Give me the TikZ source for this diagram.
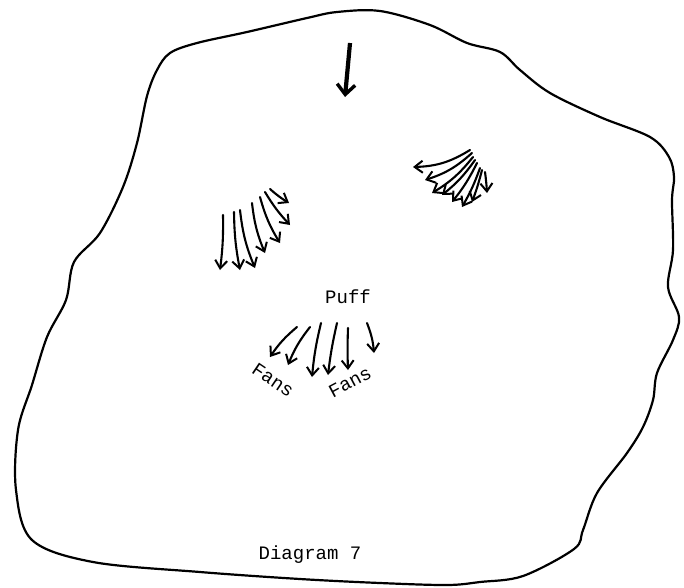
\documentclass[tikz,border=0pt]{standalone}
\usepackage{fontspec}
\setmonofont{Liberation Mono}
\usetikzlibrary{arrows.meta}
\tikzset{
  outline/.style={line width=2.2pt, line join=round},
  fanarrow/.style={line width=2.1pt, line cap=round, -{Straight Barb[length=8pt,width=12pt,line width=2pt]}},
  bigarrow/.style={line width=4.2pt, -{Straight Barb[length=10pt,width=18pt,line width=3.4pt]}},
  label/.style={font=\ttfamily\fontsize{19}{20}\selectfont, inner sep=0pt}
}
\begin{document}
\begin{tikzpicture}[x=1pt,y=-1pt]
\useasboundingbox (0,0) rectangle (684,587);
% outline
\draw[outline] plot[smooth cycle, tension=0.55] coordinates {
 (170,53) (197,43) (247,32) (307,18) (337,12) (380,11) (430,25) (467,43)
 (500,52) (520,70) (550,93) (600,117) (650,137) (669,157) (674,177) (672,200)
 (673,250) (668,287) (679,317) (673,340) (657,373) (653,400) (643,427) (627,453)
 (597,493) (583,530) (574,549) (523,576) (480,582) (447,585) (380,583) (300,579)
 (200,572) (93,562) (32,540) (16,490) (18,430) (32,385) (47,337) (66,300)
 (74,262) (100,233) (123,187) (137,143) (147,96) (157,70)};
% top arrow
\draw[bigarrow] (350,43) -- (345,97);
% left fan
\draw[fanarrow] (223,215) to[bend left=4] (220,270);
\draw[fanarrow] (234,212) to[bend right=5] (240,270);
\draw[fanarrow] (240,210) to[bend right=8] (255,268);
\draw[fanarrow] (252,203) to[bend right=8] (265,253);
\draw[fanarrow] (260,197) to[bend right=8] (280,243);
\draw[fanarrow] (265,192) to[bend right=6] (290,225);
\draw[fanarrow] (270,189) to[bend right=5] (289,203);
% right fan
\draw[fanarrow] (470,150) to[bend left=15] (413,167);
\draw[fanarrow] (472,153) to[bend left=12] (425,180);
\draw[fanarrow] (473,157) to[bend left=10] (432,193);
\draw[fanarrow] (475,160) to[bend left=8] (442,195);
\draw[fanarrow] (477,163) to[bend left=6] (452,202);
\draw[fanarrow] (480,168) to[bend left=5] (462,207);
\draw[fanarrow] (482,170) to[bend left=3] (472,202);
\draw[fanarrow] (485,172) to[bend left=2] (487,193);
% texts
\node[label] (puff) at (348,297) {Puff};
\node[label, rotate=-34] (fansL) at (273,380) {Fans};
\node[label, rotate=28] (fansR) at (350,382) {Fans};
\node[label] (diag) at (310,555) {Diagram 7};
% puff fan
\draw[fanarrow] (297,327) to[bend right=8] (270,357);
\draw[fanarrow] (310,327) to[bend right=8] (288,365);
\draw[fanarrow] (321,323) to[bend right=4] (312,377);
\draw[fanarrow] (337,323) to[bend right=3] (328,375);
\draw[fanarrow] (348,328) to[bend right=2] (348,370);
\draw[fanarrow] (367,323) to[bend left=8] (374,353);
\end{tikzpicture}
\end{document}
